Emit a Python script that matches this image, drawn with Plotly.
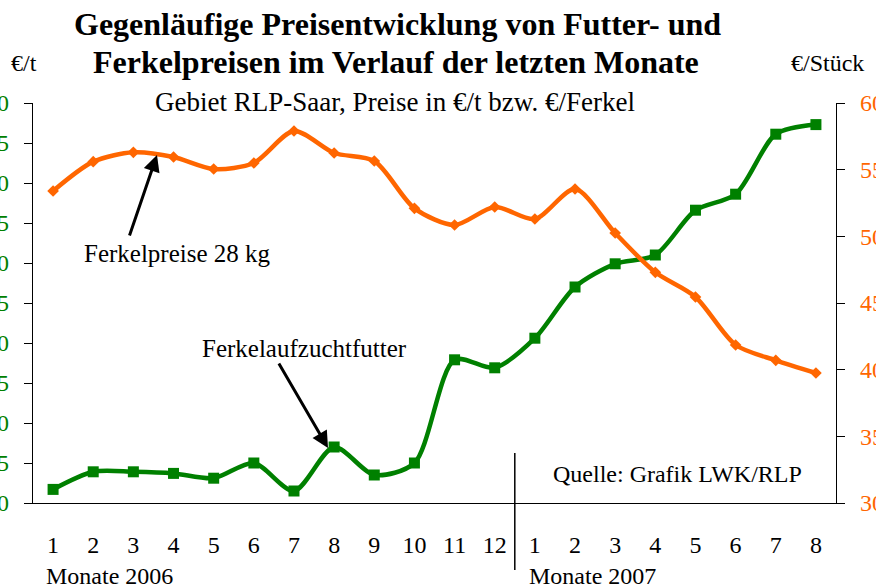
import plotly.graph_objects as go

# ---- data ----
months = ["1", "2", "3", "4", "5", "6", "7", "8", "9", "10", "11", "12",
          "1", "2", "3", "4", "5", "6", "7", "8"]
futter = [201.7, 203.9, 203.9, 203.7, 203.1, 205.0, 201.5, 207.0, 203.5, 205.0,
          217.9, 216.9, 220.6, 227.0, 229.9, 231.0, 236.6, 238.6, 246.1, 247.3]
ferkel = [53.4, 55.6, 56.3, 55.95, 55.05, 55.5, 57.9, 56.25, 55.65, 52.1,
          50.85, 52.2, 51.3, 53.55, 50.25, 47.3, 45.45, 41.85, 40.7, 39.75]
left_ticks = [200, 205, 210, 215, 220, 225, 230, 235, 240, 245, 250]
right_ticks = [30, 35, 40, 45, 50, 55, 60]

GREEN = "#008000"
ORANGE = "#FF6600"
FONT = "Liberation Serif"

xpos = list(range(1, len(months) + 1))
bounds = [i + 0.5 for i in range(0, len(months) + 1)]
XR = [0.5, len(months) + 0.5]

W, H = 876, 587
ML, MR, MT, MB = 33, 40, 103, 84
PW, PH = W - ML - MR, H - MT - MB


def px(xp):
    return (xp - ML) / PW


def py(yp):
    return (H - MB - yp) / PH


fig = go.Figure()
fig.add_trace(go.Scatter(
    x=xpos, y=futter, mode="lines+markers", yaxis="y",
    line=dict(color=GREEN, width=4.5, shape="spline", smoothing=0.8),
    marker=dict(symbol="square", size=11, color=GREEN),
    showlegend=False))
fig.add_trace(go.Scatter(
    x=xpos, y=ferkel, mode="lines+markers", yaxis="y2",
    line=dict(color=ORANGE, width=4.5, shape="spline", smoothing=0.8),
    marker=dict(symbol="diamond", size=9, color=ORANGE),
    showlegend=False))

axis_common = dict(showgrid=False, zeroline=False, automargin=False,
                   linecolor="black", linewidth=1.2, tickcolor="black",
                   tickwidth=1.2)

fig.update_layout(
    width=W, height=H, template="none",
    paper_bgcolor="white", plot_bgcolor="white",
    margin=dict(l=ML, r=MR, t=MT, b=MB),
    font=dict(family=FONT, size=24, color="black"),
    xaxis=dict(range=XR, tickmode="array", tickvals=xpos, ticktext=months,
               ticks="", showline=True, ticklabelstandoff=20,
               tickfont=dict(size=24, color="black", family=FONT),
               **axis_common),
    xaxis2=dict(range=XR, overlaying="x", anchor="y", side="bottom",
                tickmode="array", tickvals=bounds, ticks="outside", ticklen=9,
                showticklabels=False, showline=False, **axis_common),
    xaxis3=dict(range=XR, overlaying="x", anchor="y", side="bottom",
                tickmode="array", tickvals=bounds, ticks="inside", ticklen=9,
                showticklabels=False, showline=False, **axis_common),
    yaxis=dict(range=[left_ticks[0], left_ticks[-1]], tickmode="array",
               tickvals=left_ticks, ticks="outside", ticklen=8,
               showline=True, ticklabelstandoff=10,
               tickfont=dict(size=24, color=GREEN, family=FONT),
               **axis_common),
    yaxis3=dict(range=[left_ticks[0], left_ticks[-1]], overlaying="y",
                anchor="x", side="left", tickmode="array", tickvals=left_ticks,
                ticks="inside", ticklen=8, showticklabels=False, showline=False,
                **axis_common),
    yaxis2=dict(range=[right_ticks[0], right_ticks[-1]], overlaying="y",
                anchor="x", side="right", tickmode="array",
                tickvals=right_ticks, ticks="outside", ticklen=8,
                showline=True, showticklabels=True, ticklabelstandoff=10,
                tickfont=dict(size=24, color=ORANGE, family=FONT),
                **axis_common),
    yaxis4=dict(range=[right_ticks[0], right_ticks[-1]], overlaying="y",
                anchor="x", side="right", tickmode="array",
                tickvals=right_ticks, ticks="inside", ticklen=8,
                showticklabels=False, showline=False, **axis_common),
)

ann = []


def text(t, xp, yp, size=24, xanchor="center", bold=False, color="black"):
    ann.append(dict(text=f"<b>{t}</b>" if bold else t, xref="paper",
                    yref="paper", x=px(xp), y=py(yp), xanchor=xanchor,
                    yanchor="middle", showarrow=False,
                    font=dict(family=FONT, size=size, color=color)))


text("Gegenläufige Preisentwicklung von Futter- und", 397, 24, size=32, bold=True)
text("Ferkelpreisen im Verlauf der letzten Monate", 396, 62, size=32, bold=True)
text("Gebiet RLP-Saar, Preise in €/t bzw. €/Ferkel", 395, 102, size=27)
text("€/t", 24, 63, size=24)
text("€/Stück", 827, 63, size=24)
text("Ferkelpreise 28 kg", 177, 254, size=25)
text("Ferkelaufzuchtfutter", 304, 348, size=25)
text("Quelle: Grafik LWK/RLP", 677, 474, size=24)
text("Monate 2006", 44, 576, size=24, xanchor="left")
text("Monate 2007", 527, 576, size=24, xanchor="left")


def arrow(tail, tip):
    ann.append(dict(text="", xref="paper", yref="paper",
                    x=px(tip[0]), y=py(tip[1]),
                    ax=tail[0] - tip[0], ay=tail[1] - tip[1],
                    axref="pixel", ayref="pixel",
                    showarrow=True, arrowhead=2, arrowsize=1.1,
                    arrowwidth=3, arrowcolor="black", standoff=0))


arrow((129, 237), (157, 155))
arrow((278, 362), (328, 448))

fig.update_layout(annotations=ann)

# separator between the two years
fig.add_shape(type="line", xref="x", yref="paper", x0=12.5, x1=12.5,
              y0=py(570), y1=py(453), line=dict(color="black", width=1.5))

fig.write_html("out.html",
               config={"displayModeBar": False},
               post_script="document.body.style.margin='0';"
                           "document.body.style.overflow='hidden';")
